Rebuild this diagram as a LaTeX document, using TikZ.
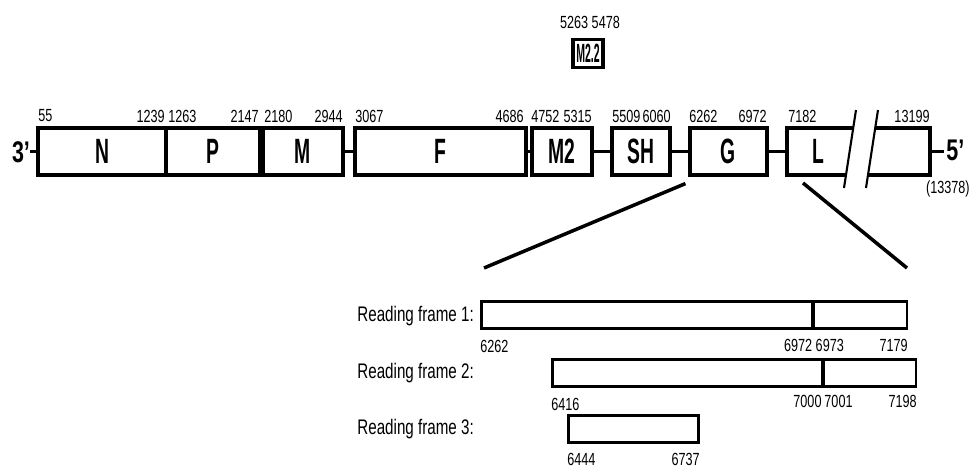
\documentclass[tikz,border=0pt]{standalone}
\usepackage{fontspec}
\setmainfont{Liberation Sans}[FakeStretch=0.72]
\newfontfamily\genefont{Liberation Sans}[FakeStretch=0.55]
\newfontfamily\thinfont{Liberation Sans}[FakeStretch=0.4]
\usetikzlibrary{positioning,calc}

\begin{document}
\begin{tikzpicture}[
  x=0.02cm, y=-0.02cm,
  gene/.style={rectangle, draw=black, line width=1.8pt, fill=white, minimum height=0.94cm,
               inner sep=0pt, font=\genefont\bfseries\fontsize{20}{20}\selectfont},
  rfbox/.style={rectangle, draw=black, line width=1.7pt, fill=white, minimum height=0.54cm, inner sep=0pt},
  num/.style={inner sep=0pt, font=\fontsize{10}{11}\selectfont},
  rflbl/.style={inner sep=0pt, anchor=west, font=\fontsize{12}{13}\selectfont},
  endlbl/.style={inner sep=0pt, font=\bfseries\fontsize{17}{17}\selectfont},
  spine/.style={line width=1.7pt},
  zoomline/.style={line width=2pt},
  cut/.style={line width=1.2pt},
]
\useasboundingbox (0,0) rectangle (971,468);

\node[gene, minimum width=2.56cm] (N)  at (102,151.5)   {N};
\node[gene, minimum width=1.88cm] (P)  at (213,151.5)   {P};
\node[gene, minimum width=1.60cm] (M)  at (303,151.5)   {M};
\node[gene, minimum width=3.42cm] (F)  at (440.5,151.5) {F};
\node[gene, minimum width=1.20cm] (M2) at (562,151.5)   {M2};
\node[gene, minimum width=1.16cm] (SH) at (641,151.5)   {SH};
\node[gene, minimum width=1.54cm] (G)  at (728.5,151.5) {G};

\coordinate (Ltop) at (787,128);
\coordinate (Lbot) at (787,175);
\coordinate (Lmid) at (787,151.5);
\coordinate (Rtop) at (930,128);
\coordinate (Rbot) at (930,175);
\coordinate (Rmid) at (930,151.5);
\coordinate (end3) at (30,151.5);
\coordinate (end5) at (944,151.5);

\draw[line width=1.8pt] (853.2,128) -- (Ltop) -- (Lbot) -- (846,175);
\draw[line width=1.8pt] (875.2,128) -- (Rtop) -- (Rbot) -- (868,175);
\draw[cut] (856,110) -- (844,188);
\draw[cut] (878,110) -- (866,188);
\node[inner sep=0pt, font=\genefont\bfseries\fontsize{20}{20}\selectfont] (L) at (818,151.5) {L};

\draw[spine] (end3) -- (N.west);
\draw[spine] (P.east) -- (M.west);
\draw[spine] (M.east) -- (F.west);
\draw[spine] (F.east) -- (M2.west);
\draw[spine] (M2.east) -- (SH.west);
\draw[spine] (SH.east) -- (G.west);
\draw[spine] (G.east) -- (Lmid);
\draw[spine] (Rmid) -- (end5);

\node[endlbl] (t3) at (21,152) {3’};
\node[endlbl, anchor=west] (t5) at (946,150) {5’};
\node[num, anchor=east] (len) at (970,189) {(13378)};

\node[num, anchor=west] (a55)   at (38,116)  {55};
\node[num, anchor=east] (a1239) at (165,116) {1239};
\node[num, anchor=west] (a1263) at (168,116) {1263};
\node[num, anchor=east] (a2147) at (259,116) {2147};
\node[num, anchor=west] (a2180) at (264,116) {2180};
\node[num, anchor=east] (a2944) at (343,116) {2944};
\node[num, anchor=west] (a3067) at (355,116) {3067};
\node[num, anchor=east] (a4686) at (524,116) {4686};
\node[num, anchor=west] (a4752) at (531,116) {4752};
\node[num, anchor=east] (a5315) at (592,116) {5315};
\node[num, anchor=west] (a5509) at (612,116) {5509};
\node[num, anchor=east] (a6060) at (671,116) {6060};
\node[num, anchor=west] (a6262) at (689,116) {6262};
\node[num, anchor=east] (a6972) at (767,116) {6972};
\node[num, anchor=west] (a7182) at (788,116) {7182};
\node[num, anchor=east] (a13199) at (930,116) {13199};

\node[gene, minimum width=0.6cm, minimum height=0.56cm, line width=2pt,
      font=\thinfont\bfseries\fontsize{15}{15}\selectfont] (M22) at (588,53.5) {M2.2};
\node[num] (a5263) at (590,22) {5263\ 5478};

\coordinate (zl) at (484,268);
\coordinate (zr) at (907,268);
\draw[zoomline] ($(G.south west)+(-3,7)$) -- (zl);
\draw[zoomline] (803,183) -- (zr);

\node[rfbox, minimum width=6.64cm] (rf1a) at (647,315)   {};
\node[rfbox, minimum width=1.88cm] (rf1b) at (860,315)   {};
\node[rfbox, minimum width=5.42cm] (rf2a) at (687.5,372.5) {};
\node[rfbox, minimum width=1.86cm] (rf2b) at (869.5,372.5) {};
\node[rfbox, minimum width=2.62cm] (rf3)  at (633.5,429) {};

\node[rflbl] (lbl1) at (357,316) {Reading frame 1:};
\node[rflbl] (lbl2) at (357,373) {Reading frame 2:};
\node[rflbl] (lbl3) at (357,429) {Reading frame 3:};

\node[num, anchor=west] (b6262) at (480,346) {6262};
\node[num]              (b6972) at (814,345) {6972 6973};
\node[num, anchor=east] (b7179) at (908,345) {7179};
\node[num, anchor=west] (b6416) at (551,404) {6416};
\node[num]              (b7000) at (823,401) {7000\,7001};
\node[num, anchor=east] (b7198) at (917,401) {7198};
\node[num, anchor=west] (b6444) at (567,459) {6444};
\node[num, anchor=east] (b6737) at (700,459) {6737};

\end{tikzpicture}
\end{document}
